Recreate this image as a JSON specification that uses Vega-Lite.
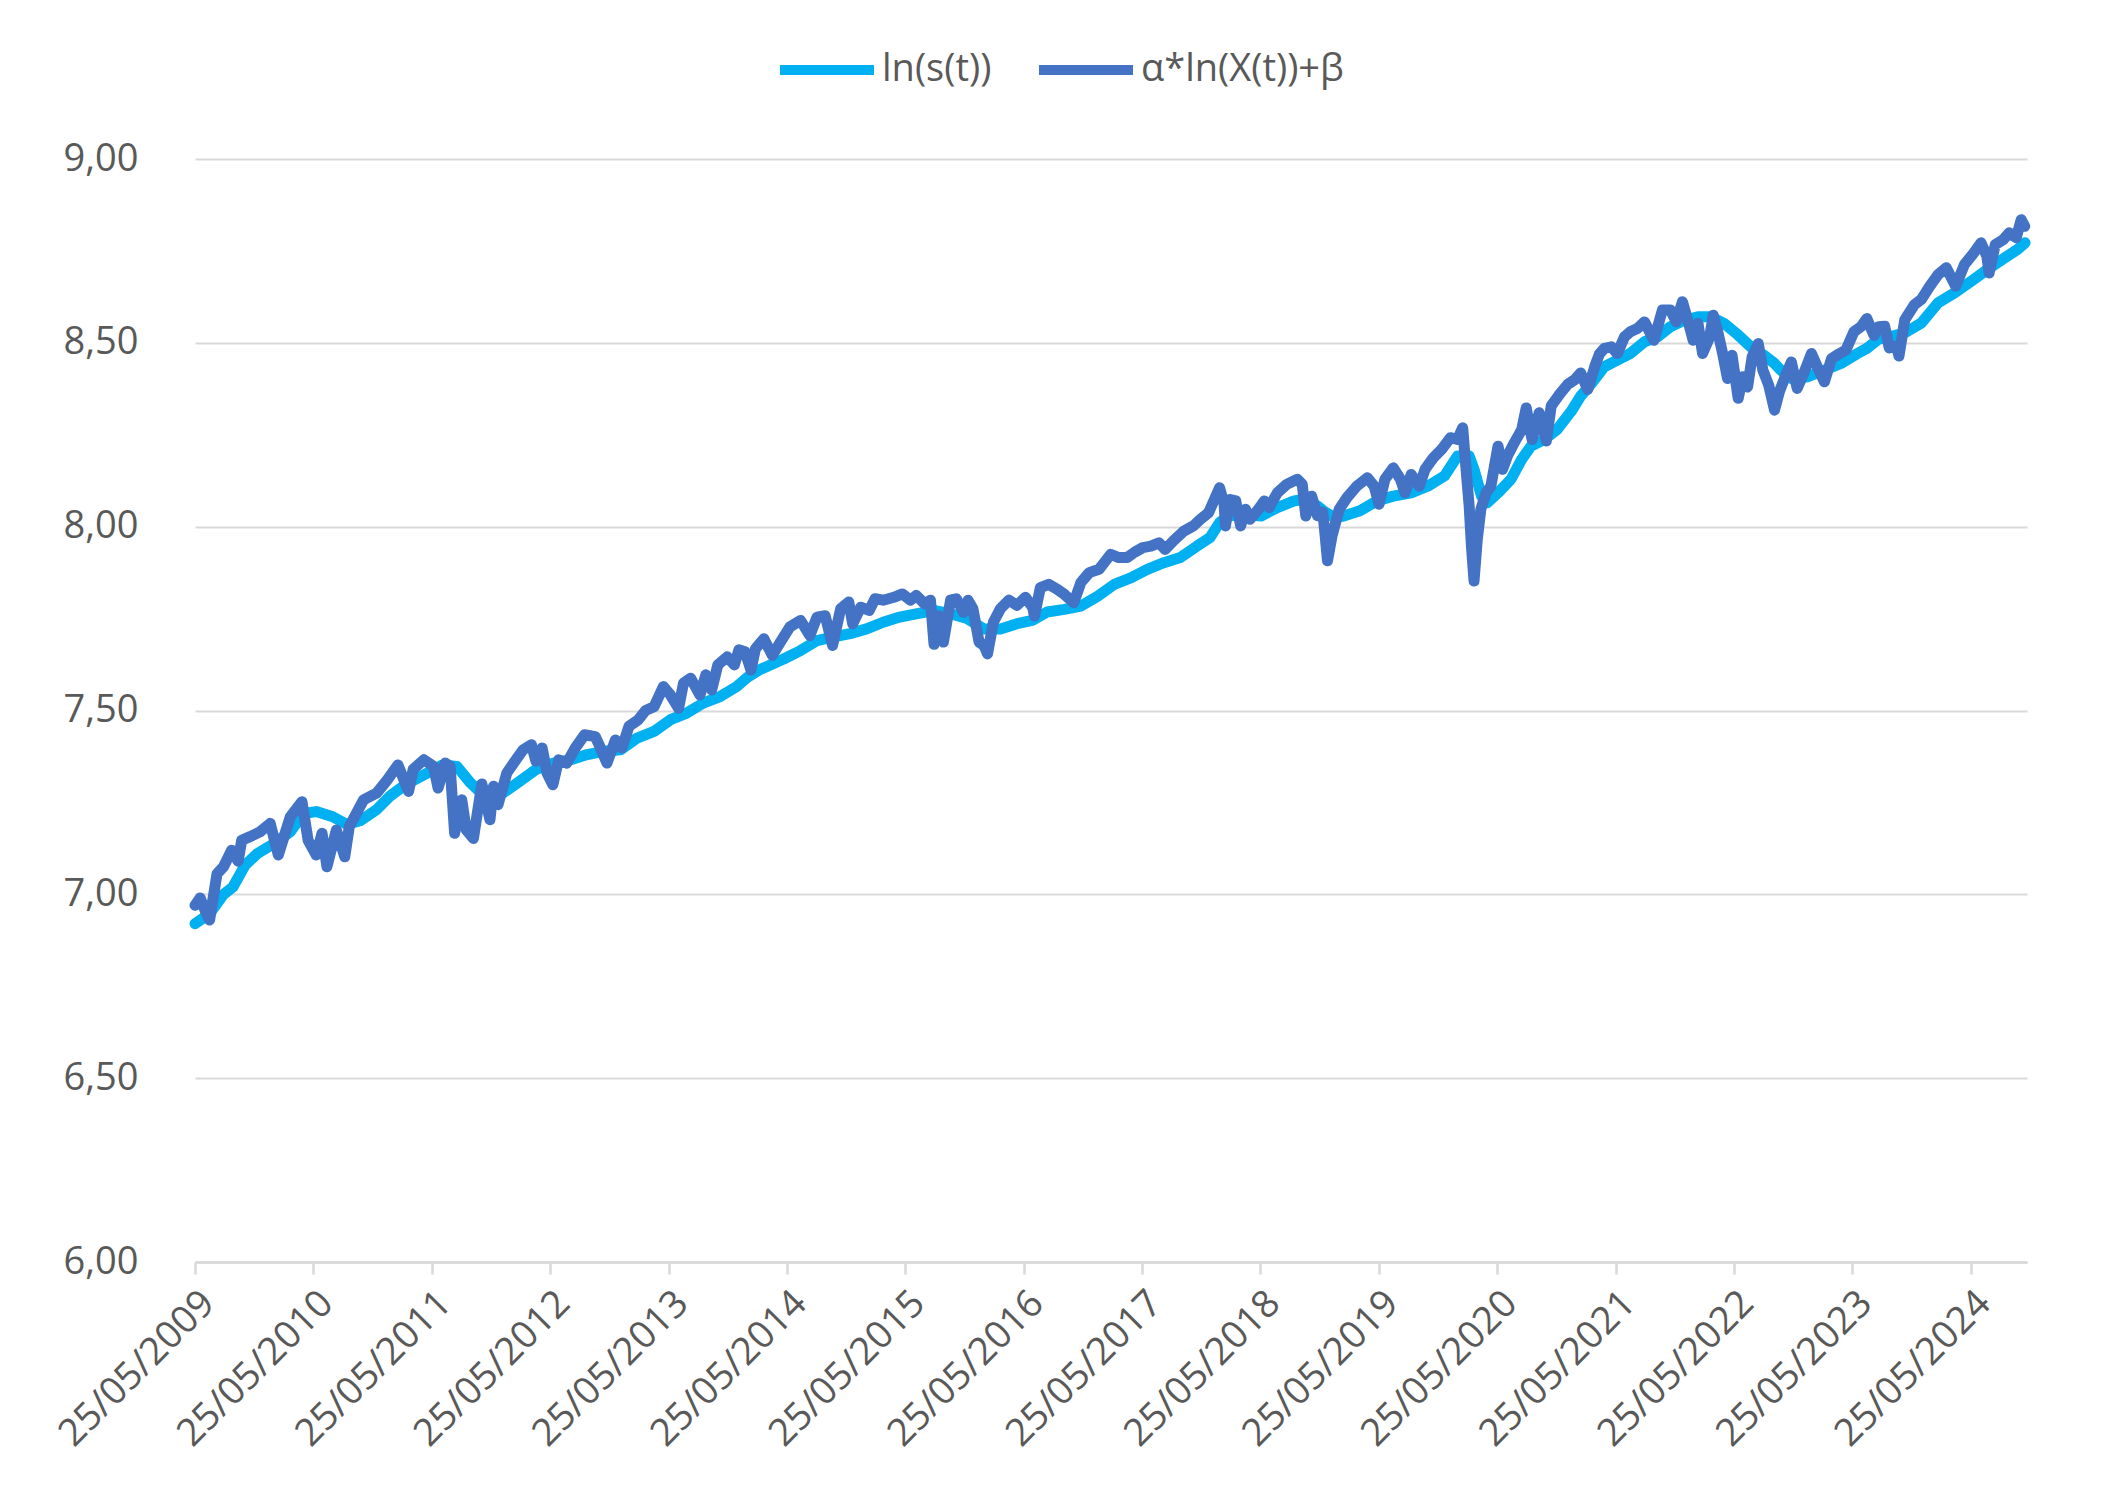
{
"$schema": "https://vega.github.io/schema/vega-lite/v6.json",
"width": 1832, "height": 1103,
"autosize": {"type": "none"},
"padding": {"left": 195, "top": 159, "right": 90, "bottom": 241},
"background": "white",
"config": {"view": {"stroke": null}, "font": "Open Sans"},
"datasets": {
"light": [
{"d":"2009-05-25","v":6.92},{"d":"2009-07-09","v":6.947},{"d":"2009-08-21","v":7.0},{"d":"2009-09-19","v":7.02},{"d":"2009-10-27","v":7.08},{"d":"2009-12-02","v":7.11},{"d":"2010-01-23","v":7.138},{"d":"2010-03-15","v":7.17},{"d":"2010-04-24","v":7.22},{"d":"2010-06-03","v":7.225},{"d":"2010-07-24","v":7.211},{"d":"2010-09-06","v":7.19},{"d":"2010-10-16","v":7.2},{"d":"2010-12-06","v":7.23},{"d":"2011-01-15","v":7.266},{"d":"2011-03-08","v":7.3},{"d":"2011-05-01","v":7.325},{"d":"2011-06-28","v":7.352},{"d":"2011-08-11","v":7.348},{"d":"2011-09-20","v":7.305},{"d":"2011-10-15","v":7.284},{"d":"2011-11-10","v":7.282},{"d":"2012-01-01","v":7.276},{"d":"2012-02-09","v":7.3},{"d":"2012-04-12","v":7.34},{"d":"2012-06-03","v":7.357},{"d":"2012-07-27","v":7.366},{"d":"2012-09-16","v":7.38},{"d":"2012-11-06","v":7.389},{"d":"2012-12-28","v":7.393},{"d":"2013-02-17","v":7.425},{"d":"2013-04-10","v":7.443},{"d":"2013-05-31","v":7.475},{"d":"2013-07-20","v":7.493},{"d":"2013-09-09","v":7.52},{"d":"2013-10-31","v":7.538},{"d":"2013-12-21","v":7.565},{"d":"2014-01-23","v":7.59},{"d":"2014-02-28","v":7.61},{"d":"2014-05-15","v":7.64},{"d":"2014-07-06","v":7.663},{"d":"2014-08-26","v":7.69},{"d":"2014-10-16","v":7.7},{"d":"2014-12-06","v":7.709},{"d":"2015-01-26","v":7.722},{"d":"2015-03-18","v":7.74},{"d":"2015-05-08","v":7.754},{"d":"2015-06-28","v":7.763},{"d":"2015-08-22","v":7.772},{"d":"2015-10-12","v":7.763},{"d":"2015-12-02","v":7.75},{"d":"2016-01-23","v":7.722},{"d":"2016-03-14","v":7.722},{"d":"2016-05-04","v":7.736},{"d":"2016-06-20","v":7.745},{"d":"2016-08-05","v":7.768},{"d":"2016-09-27","v":7.775},{"d":"2016-11-17","v":7.784},{"d":"2017-01-08","v":7.811},{"d":"2017-02-28","v":7.843},{"d":"2017-04-20","v":7.861},{"d":"2017-06-10","v":7.884},{"d":"2017-07-31","v":7.902},{"d":"2017-09-20","v":7.916},{"d":"2017-11-10","v":7.947},{"d":"2017-12-20","v":7.97},{"d":"2018-01-19","v":8.011},{"d":"2018-02-14","v":8.029},{"d":"2018-04-05","v":8.034},{"d":"2018-05-27","v":8.029},{"d":"2018-07-16","v":8.052},{"d":"2018-09-06","v":8.07},{"d":"2018-10-05","v":8.074},{"d":"2018-11-17","v":8.056},{"d":"2018-12-05","v":8.043},{"d":"2019-01-08","v":8.025},{"d":"2019-02-06","v":8.029},{"d":"2019-03-28","v":8.043},{"d":"2019-05-19","v":8.07},{"d":"2019-07-09","v":8.083},{"d":"2019-09-02","v":8.092},{"d":"2019-10-23","v":8.11},{"d":"2019-12-14","v":8.138},{"d":"2020-01-23","v":8.192},{"d":"2020-02-28","v":8.192},{"d":"2020-03-14","v":8.156},{"d":"2020-04-06","v":8.083},{"d":"2020-04-24","v":8.065},{"d":"2020-05-27","v":8.092},{"d":"2020-07-06","v":8.129},{"d":"2020-08-08","v":8.183},{"d":"2020-09-06","v":8.219},{"d":"2020-10-16","v":8.237},{"d":"2020-11-25","v":8.264},{"d":"2021-01-08","v":8.314},{"d":"2021-02-06","v":8.355},{"d":"2021-03-12","v":8.39},{"d":"2021-04-20","v":8.435},{"d":"2021-05-30","v":8.453},{"d":"2021-07-09","v":8.471},{"d":"2021-08-22","v":8.503},{"d":"2021-10-01","v":8.516},{"d":"2021-11-10","v":8.544},{"d":"2021-12-24","v":8.562},{"d":"2022-02-03","v":8.571},{"d":"2022-03-14","v":8.571},{"d":"2022-04-24","v":8.553},{"d":"2022-06-07","v":8.521},{"d":"2022-07-16","v":8.489},{"d":"2022-08-26","v":8.466},{"d":"2022-09-27","v":8.444},{"d":"2022-10-16","v":8.426},{"d":"2022-11-18","v":8.403},{"d":"2023-01-08","v":8.408},{"d":"2023-02-28","v":8.426},{"d":"2023-04-20","v":8.444},{"d":"2023-06-10","v":8.471},{"d":"2023-07-09","v":8.485},{"d":"2023-08-14","v":8.51},{"d":"2023-09-09","v":8.514},{"d":"2023-11-03","v":8.527},{"d":"2023-12-24","v":8.554},{"d":"2024-02-14","v":8.609},{"d":"2024-04-05","v":8.636},{"d":"2024-05-27","v":8.668},{"d":"2024-07-16","v":8.7},{"d":"2024-09-06","v":8.731},{"d":"2024-10-16","v":8.754},{"d":"2024-11-08","v":8.772}
],
"dark": [
{"d":"2009-05-25","v":6.97},{"d":"2009-06-10","v":6.99},{"d":"2009-06-28","v":6.95},{"d":"2009-07-09","v":6.93},{"d":"2009-08-01","v":7.056},{"d":"2009-08-21","v":7.075},{"d":"2009-09-15","v":7.12},{"d":"2009-10-05","v":7.09},{"d":"2009-10-16","v":7.147},{"d":"2009-11-11","v":7.157},{"d":"2009-12-12","v":7.17},{"d":"2010-01-12","v":7.193},{"d":"2010-02-06","v":7.107},{"d":"2010-03-15","v":7.211},{"d":"2010-04-20","v":7.252},{"d":"2010-05-09","v":7.147},{"d":"2010-06-03","v":7.107},{"d":"2010-06-21","v":7.166},{"d":"2010-07-06","v":7.075},{"d":"2010-08-04","v":7.175},{"d":"2010-08-30","v":7.102},{"d":"2010-09-13","v":7.184},{"d":"2010-10-27","v":7.257},{"d":"2010-12-06","v":7.275},{"d":"2011-01-08","v":7.311},{"d":"2011-02-10","v":7.352},{"d":"2011-03-15","v":7.28},{"d":"2011-03-29","v":7.34},{"d":"2011-05-01","v":7.366},{"d":"2011-05-31","v":7.348},{"d":"2011-06-14","v":7.289},{"d":"2011-07-06","v":7.357},{"d":"2011-07-21","v":7.348},{"d":"2011-08-04","v":7.166},{"d":"2011-08-26","v":7.257},{"d":"2011-09-09","v":7.175},{"d":"2011-10-01","v":7.152},{"d":"2011-10-27","v":7.3},{"d":"2011-11-21","v":7.203},{"d":"2011-12-02","v":7.294},{"d":"2011-12-16","v":7.244},{"d":"2012-01-12","v":7.33},{"d":"2012-02-09","v":7.366},{"d":"2012-03-02","v":7.393},{"d":"2012-03-28","v":7.407},{"d":"2012-04-11","v":7.362},{"d":"2012-04-30","v":7.398},{"d":"2012-05-15","v":7.33},{"d":"2012-06-02","v":7.298},{"d":"2012-06-20","v":7.366},{"d":"2012-07-15","v":7.357},{"d":"2012-08-10","v":7.398},{"d":"2012-09-08","v":7.434},{"d":"2012-10-11","v":7.429},{"d":"2012-10-25","v":7.402},{"d":"2012-11-16","v":7.357},{"d":"2012-12-12","v":7.42},{"d":"2013-01-01","v":7.398},{"d":"2013-01-23","v":7.457},{"d":"2013-02-21","v":7.475},{"d":"2013-03-15","v":7.5},{"d":"2013-04-10","v":7.51},{"d":"2013-05-09","v":7.565},{"d":"2013-05-31","v":7.542},{"d":"2013-06-25","v":7.506},{"d":"2013-07-10","v":7.574},{"d":"2013-08-01","v":7.588},{"d":"2013-08-30","v":7.542},{"d":"2013-09-17","v":7.597},{"d":"2013-10-05","v":7.556},{"d":"2013-10-24","v":7.624},{"d":"2013-11-22","v":7.646},{"d":"2013-12-14","v":7.624},{"d":"2013-12-28","v":7.665},{"d":"2014-01-16","v":7.66},{"d":"2014-02-03","v":7.61},{"d":"2014-02-17","v":7.668},{"d":"2014-03-15","v":7.695},{"d":"2014-04-10","v":7.65},{"d":"2014-05-05","v":7.686},{"d":"2014-06-03","v":7.727},{"d":"2014-07-06","v":7.745},{"d":"2014-08-04","v":7.704},{"d":"2014-08-26","v":7.754},{"d":"2014-09-20","v":7.758},{"d":"2014-10-13","v":7.677},{"d":"2014-11-07","v":7.777},{"d":"2014-12-02","v":7.795},{"d":"2014-12-14","v":7.736},{"d":"2015-01-08","v":7.781},{"d":"2015-02-03","v":7.772},{"d":"2015-02-21","v":7.804},{"d":"2015-03-18","v":7.8},{"d":"2015-04-20","v":7.808},{"d":"2015-05-16","v":7.817},{"d":"2015-06-10","v":7.8},{"d":"2015-06-28","v":7.813},{"d":"2015-07-24","v":7.79},{"d":"2015-08-11","v":7.8},{"d":"2015-08-22","v":7.68},{"d":"2015-09-05","v":7.758},{"d":"2015-09-20","v":7.686},{"d":"2015-10-12","v":7.8},{"d":"2015-10-30","v":7.804},{"d":"2015-11-21","v":7.767},{"d":"2015-12-05","v":7.8},{"d":"2015-12-20","v":7.777},{"d":"2016-01-08","v":7.686},{"d":"2016-01-23","v":7.677},{"d":"2016-02-03","v":7.654},{"d":"2016-02-21","v":7.74},{"d":"2016-03-14","v":7.777},{"d":"2016-04-09","v":7.8},{"d":"2016-05-04","v":7.786},{"d":"2016-05-30","v":7.808},{"d":"2016-06-21","v":7.781},{"d":"2016-06-27","v":7.757},{"d":"2016-07-15","v":7.834},{"d":"2016-08-10","v":7.843},{"d":"2016-09-05","v":7.83},{"d":"2016-09-27","v":7.816},{"d":"2016-10-26","v":7.793},{"d":"2016-11-17","v":7.848},{"d":"2016-12-13","v":7.875},{"d":"2017-01-12","v":7.884},{"d":"2017-02-17","v":7.925},{"d":"2017-03-14","v":7.916},{"d":"2017-04-09","v":7.916},{"d":"2017-05-01","v":7.93},{"d":"2017-05-27","v":7.943},{"d":"2017-06-21","v":7.947},{"d":"2017-07-16","v":7.956},{"d":"2017-08-04","v":7.938},{"d":"2017-08-29","v":7.961},{"d":"2017-10-01","v":7.988},{"d":"2017-10-30","v":8.002},{"d":"2017-11-21","v":8.02},{"d":"2017-12-16","v":8.038},{"d":"2018-01-01","v":8.07},{"d":"2018-01-19","v":8.106},{"d":"2018-02-02","v":8.061},{"d":"2018-02-06","v":8.002},{"d":"2018-02-20","v":8.074},{"d":"2018-03-10","v":8.07},{"d":"2018-03-25","v":8.002},{"d":"2018-04-09","v":8.047},{"d":"2018-04-23","v":8.02},{"d":"2018-05-15","v":8.043},{"d":"2018-06-06","v":8.07},{"d":"2018-06-21","v":8.052},{"d":"2018-07-16","v":8.092},{"d":"2018-08-14","v":8.115},{"d":"2018-09-16","v":8.129},{"d":"2018-10-01","v":8.115},{"d":"2018-10-12","v":8.029},{"d":"2018-10-30","v":8.083},{"d":"2018-11-17","v":8.03},{"d":"2018-12-03","v":8.04},{"d":"2018-12-08","v":8.0},{"d":"2018-12-18","v":7.907},{"d":"2019-01-01","v":7.975},{"d":"2019-01-23","v":8.047},{"d":"2019-02-16","v":8.079},{"d":"2019-03-18","v":8.11},{"d":"2019-04-20","v":8.133},{"d":"2019-05-11","v":8.11},{"d":"2019-05-26","v":8.061},{"d":"2019-06-13","v":8.129},{"d":"2019-07-09","v":8.16},{"d":"2019-07-31","v":8.129},{"d":"2019-08-14","v":8.092},{"d":"2019-09-02","v":8.142},{"d":"2019-09-27","v":8.11},{"d":"2019-10-15","v":8.156},{"d":"2019-11-10","v":8.188},{"d":"2019-12-05","v":8.21},{"d":"2020-01-01","v":8.242},{"d":"2020-01-23","v":8.237},{"d":"2020-02-08","v":8.269},{"d":"2020-02-20","v":8.14},{"d":"2020-02-28","v":8.056},{"d":"2020-03-06","v":7.947},{"d":"2020-03-14","v":7.852},{"d":"2020-03-24","v":7.965},{"d":"2020-04-04","v":8.047},{"d":"2020-04-20","v":8.092},{"d":"2020-05-05","v":8.11},{"d":"2020-05-27","v":8.219},{"d":"2020-06-10","v":8.156},{"d":"2020-06-25","v":8.192},{"d":"2020-07-16","v":8.228},{"d":"2020-08-08","v":8.264},{"d":"2020-08-22","v":8.323},{"d":"2020-09-09","v":8.237},{"d":"2020-10-01","v":8.31},{"d":"2020-10-23","v":8.233},{"d":"2020-11-07","v":8.328},{"d":"2020-12-03","v":8.36},{"d":"2020-12-28","v":8.387},{"d":"2021-01-19","v":8.4},{"d":"2021-02-06","v":8.418},{"d":"2021-02-28","v":8.373},{"d":"2021-03-22","v":8.437},{"d":"2021-04-05","v":8.47},{"d":"2021-04-20","v":8.485},{"d":"2021-05-12","v":8.489},{"d":"2021-05-30","v":8.471},{"d":"2021-06-21","v":8.516},{"d":"2021-07-09","v":8.53},{"d":"2021-07-31","v":8.539},{"d":"2021-08-22","v":8.557},{"d":"2021-09-20","v":8.507},{"d":"2021-10-16","v":8.589},{"d":"2021-11-10","v":8.589},{"d":"2021-11-28","v":8.557},{"d":"2021-12-17","v":8.612},{"d":"2022-01-08","v":8.544},{"d":"2022-01-19","v":8.507},{"d":"2022-02-03","v":8.553},{"d":"2022-02-17","v":8.471},{"d":"2022-03-11","v":8.516},{"d":"2022-03-22","v":8.575},{"d":"2022-04-05","v":8.53},{"d":"2022-04-20","v":8.471},{"d":"2022-05-05","v":8.403},{"d":"2022-05-19","v":8.466},{"d":"2022-06-07","v":8.349},{"d":"2022-06-21","v":8.408},{"d":"2022-07-06","v":8.38},{"d":"2022-07-20","v":8.462},{"d":"2022-08-08","v":8.498},{"d":"2022-08-22","v":8.426},{"d":"2022-09-09","v":8.385},{"d":"2022-09-27","v":8.317},{"d":"2022-10-12","v":8.367},{"d":"2022-11-03","v":8.417},{"d":"2022-11-18","v":8.448},{"d":"2022-12-06","v":8.376},{"d":"2022-12-28","v":8.421},{"d":"2023-01-19","v":8.471},{"d":"2023-02-06","v":8.435},{"d":"2023-02-28","v":8.394},{"d":"2023-03-22","v":8.457},{"d":"2023-04-16","v":8.471},{"d":"2023-05-05","v":8.48},{"d":"2023-05-30","v":8.53},{"d":"2023-06-21","v":8.544},{"d":"2023-07-09","v":8.566},{"d":"2023-07-31","v":8.52},{"d":"2023-08-14","v":8.544},{"d":"2023-09-02","v":8.545},{"d":"2023-09-16","v":8.486},{"d":"2023-10-08","v":8.491},{"d":"2023-10-16","v":8.464},{"d":"2023-11-03","v":8.563},{"d":"2023-12-03","v":8.604},{"d":"2023-12-24","v":8.618},{"d":"2024-01-19","v":8.654},{"d":"2024-02-14","v":8.686},{"d":"2024-03-10","v":8.704},{"d":"2024-04-08","v":8.654},{"d":"2024-05-05","v":8.713},{"d":"2024-05-30","v":8.74},{"d":"2024-06-25","v":8.772},{"d":"2024-07-13","v":8.736},{"d":"2024-07-20","v":8.69},{"d":"2024-08-08","v":8.767},{"d":"2024-09-02","v":8.781},{"d":"2024-09-20","v":8.799},{"d":"2024-10-12","v":8.786},{"d":"2024-10-27","v":8.835},{"d":"2024-11-07","v":8.817}
]
},
"encoding": {
  "x": {"field": "d", "type": "temporal",
    "scale": {"type": "utc", "domain": [{"year":2009,"month":5,"date":25,"utc":true},{"year":2024,"month":11,"date":14,"utc":true}], "nice": false},
    "axis": {"title": null, "grid": false,
      "values": [{"year":2009,"month":5,"date":25,"utc":true},{"year":2010,"month":5,"date":25,"utc":true},{"year":2011,"month":5,"date":25,"utc":true},{"year":2012,"month":5,"date":25,"utc":true},{"year":2013,"month":5,"date":25,"utc":true},{"year":2014,"month":5,"date":25,"utc":true},{"year":2015,"month":5,"date":25,"utc":true},{"year":2016,"month":5,"date":25,"utc":true},{"year":2017,"month":5,"date":25,"utc":true},{"year":2018,"month":5,"date":25,"utc":true},{"year":2019,"month":5,"date":25,"utc":true},{"year":2020,"month":5,"date":25,"utc":true},{"year":2021,"month":5,"date":25,"utc":true},{"year":2022,"month":5,"date":25,"utc":true},{"year":2023,"month":5,"date":25,"utc":true},{"year":2024,"month":5,"date":25,"utc":true}],
      "format": "%d/%m/%Y", "labelAngle": -45, "labelFontSize": 38, "labelFont": "Open Sans", "labelColor": "#595959",
      "labelOverlap": false, "labelFlush": false, "labelBound": false, "labelPadding": 10, "labelLimit": 0,
      "domainColor": "#D9D9D9", "domainWidth": 2.5, "tickColor": "#D9D9D9", "tickWidth": 2.5, "tickSize": 12}},
  "y": {"field": "v", "type": "quantitative",
    "scale": {"domain": [6, 9], "nice": false, "zero": false},
    "axis": {"title": null, "values": [6, 6.5, 7, 7.5, 8, 8.5, 9],
      "labelExpr": "replace(format(datum.value, '.2f'), '.', ',')",
      "labelFontSize": 38, "labelFont": "Open Sans", "labelColor": "#595959", "labelPadding": 57,
      "domain": false, "ticks": false, "grid": true, "gridColor": "#D9D9D9", "gridWidth": 2}},
  "color": {"field": "s", "type": "nominal",
    "scale": {"domain": ["ln(s(t))", "α*ln(X(t))+β"], "range": ["#00B0F0", "#4472C4"]},
    "legend": {"orient": "none", "legendX": 580, "legendY": -141, "direction": "horizontal", "title": null,
      "symbolType": "stroke", "symbolSize": 8836, "symbolStrokeWidth": 10, "labelLimit": 0,
      "labelFontSize": 38, "labelFont": "Open Sans", "labelColor": "#595959", "labelOffset": 3, "columnPadding": 27, "padding": 0}}
},
"layer": [
  {"data": {"name": "light"}, "transform": [{"calculate": "'ln(s(t))'", "as": "s"}],
   "mark": {"type": "line", "strokeWidth": 11, "strokeJoin": "round", "strokeCap": "round"}},
  {"data": {"name": "dark"}, "transform": [{"calculate": "'α*ln(X(t))+β'", "as": "s"}],
   "mark": {"type": "line", "strokeWidth": 11, "strokeJoin": "round", "strokeCap": "round"}}
]
}
